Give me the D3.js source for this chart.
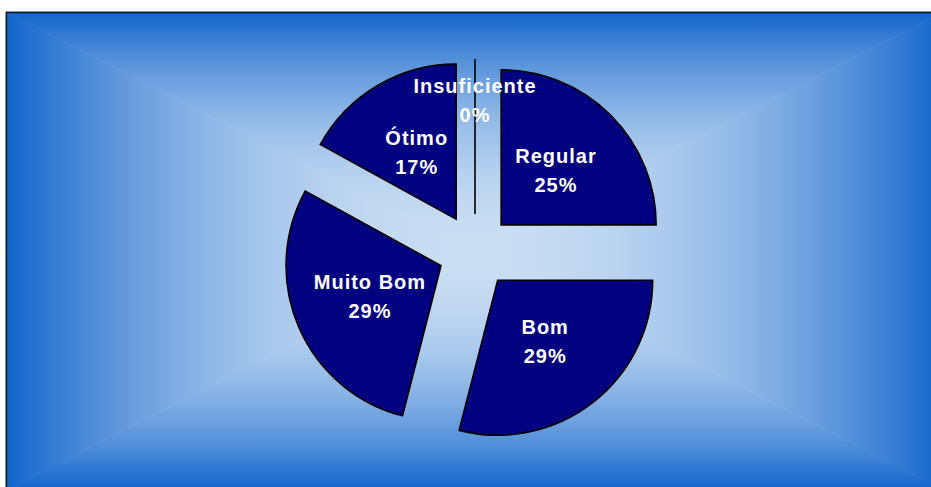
<!DOCTYPE html>
<html>
<head>
<meta charset="utf-8">
<script src="https://cdn.jsdelivr.net/npm/d3@7"></script>
<style>
  html, body { margin: 0; padding: 0; background: #ffffff; }
  svg { display: block; }
</style>
</head>
<body>
<svg id="chart" width="931" height="487"></svg>
<script>
// Rating distribution (percent of answers)
const categories = ["Insuficiente", "Regular", "Bom", "Muito Bom", "Ótimo"];
const values = [0, 25, 29, 29, 17];
const valueLabels = ["0%", "25%", "29%", "29%", "17%"];

const svg = d3.select("#chart");

// Chart area with a rectangular "from center" gradient
const area = { x0: 6, y0: 12, x1: 944, y1: 490 };
const cx = (area.x0 + area.x1) / 2, cy = (area.y0 + area.y1) / 2;
const edgeColor = "#1264cb", centerColor = "#cadef3";
const mix = d3.interpolateRgb(centerColor, edgeColor);

const defs = svg.append("defs");
const quads = [
  { id: "gTop",    pts: [[area.x0, area.y0], [area.x1, area.y0], [cx, cy]], g: [cx, area.y0, cx, cy] },
  { id: "gBottom", pts: [[area.x0, area.y1], [area.x1, area.y1], [cx, cy]], g: [cx, area.y1, cx, cy] },
  { id: "gLeft",   pts: [[area.x0, area.y0], [area.x0, area.y1], [cx, cy]], g: [area.x0, cy, cx, cy] },
  { id: "gRight",  pts: [[area.x1, area.y0], [area.x1, area.y1], [cx, cy]], g: [area.x1, cy, cx, cy] }
];
// Stops along edge -> center; the light centre fades out quadratically
const stopOffsets = d3.range(0, 1.0001, 0.1);
quads.forEach(q => {
  const lg = defs.append("linearGradient")
    .attr("id", q.id)
    .attr("gradientUnits", "userSpaceOnUse")
    .attr("x1", q.g[0]).attr("y1", q.g[1])
    .attr("x2", q.g[2]).attr("y2", q.g[3]);
  stopOffsets.forEach(s => {
    const t = 1 - s;
    lg.append("stop").attr("offset", s).attr("stop-color", mix(t * t));
  });
});

const bg = svg.append("g");
quads.forEach(q => {
  bg.append("path")
    .attr("d", "M" + q.pts.map(p => p.join(",")).join("L") + "Z")
    .attr("fill", `url(#${q.id})`)
    .attr("stroke", `url(#${q.id})`)
    .attr("stroke-width", 0.8);
});

// Chart border
svg.append("rect")
  .attr("x", area.x0 + 0.5).attr("y", area.y0 + 0.5)
  .attr("width", area.x1 - area.x0).attr("height", area.y1 - area.y0)
  .attr("fill", "none")
  .attr("stroke", "#1a1a1a")
  .attr("stroke-width", 1.5);

// Exploded pie
const pieCx = 475, pieCy = 251;
const radius = 155, explode = 37;

const pie = d3.pie().sort(null).value(d => d.value);
const data = categories.map((c, i) => ({ name: c, value: values[i], label: valueLabels[i] }));
const arcs = pie(data);
const arcGen = d3.arc().innerRadius(0).outerRadius(radius);

const g = svg.append("g").attr("transform", `translate(${pieCx},${pieCy})`);
const midAngle = d => (d.startAngle + d.endAngle) / 2;

g.append("g").selectAll("path")
  .data(arcs)
  .join("path")
  .attr("transform", d => {
    const a = midAngle(d);
    return `translate(${explode * Math.sin(a)},${-explode * Math.cos(a)})`;
  })
  .attr("d", arcGen)
  .attr("fill", "#000080")
  .attr("stroke", "#000000")
  .attr("stroke-width", 1.6)
  .attr("stroke-linejoin", "miter");

// Two-line labels: category name and percentage (drawn above all slices)
const labels = g.append("g").selectAll("text")
  .data(arcs)
  .join("text")
  .attr("text-anchor", "middle")
  .attr("fill", "#ffffff")
  .attr("font-family", "Liberation Sans, Arial, sans-serif")
  .attr("font-weight", "bold")
  .attr("font-size", 20)
  .attr("letter-spacing", 1)
  .attr("transform", d => {
    const a = midAngle(d);
    const lr = explode + (d.value > 0 ? radius * 0.5 : radius * 0.73);
    return `translate(${lr * Math.sin(a)},${-lr * Math.cos(a)})`;
  });

labels.append("tspan")
  .attr("x", 0).attr("y", -7.5)
  .text(d => d.data.name);
labels.append("tspan")
  .attr("x", 0).attr("y", 21.5)
  .text(d => d.data.label);
</script>
</body>
</html>
